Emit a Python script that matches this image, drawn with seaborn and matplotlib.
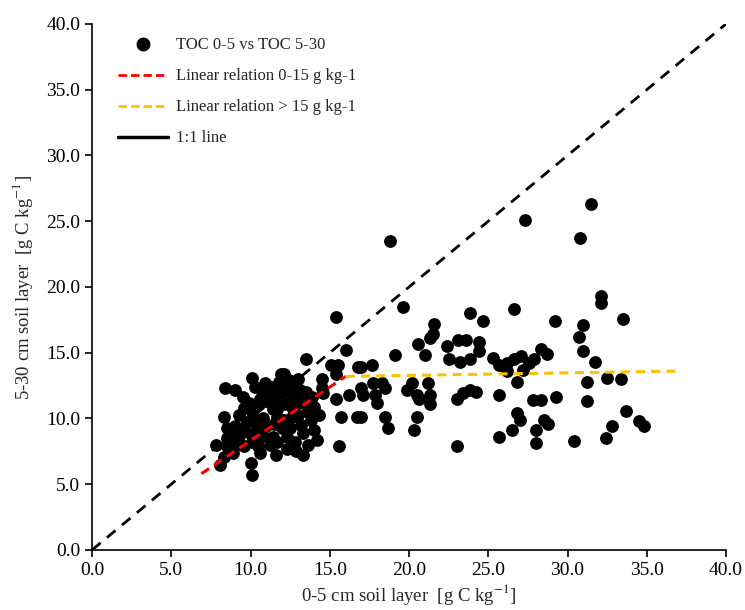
import matplotlib
matplotlib.use("Agg")
import matplotlib.pyplot as plt
import seaborn as sns
import pandas as pd
from matplotlib.lines import Line2D
from matplotlib.ticker import FormatStrFormatter, MultipleLocator

# TOC 0-5 cm (x) vs TOC 5-30 cm (y)
toc_top = [
    10.1, 8.4, 9.0, 9.5, 10.7, 11.9, 10.1, 10.5, 11.0, 11.4, 11.7, 10.8, 10.3,
    8.5, 9.0, 8.5, 8.8, 7.8, 8.5, 8.3, 8.9, 9.6, 10.1, 10.5, 10.6, 8.1, 10.0, 10.1,
    11.6, 11.7, 11.4, 15.4, 16.0, 13.5, 15.1, 15.5, 12.1, 13.0, 14.5, 15.4, 14.5,
    11.5, 11.9, 12.3, 11.7, 12.1, 12.7, 13.3, 14.0, 14.3, 13.8, 13.2, 12.5, 13.3,
    12.3, 12.9, 13.3, 14.0, 14.6, 15.4, 15.7, 15.6, 14.2,
    10.9, 11.3, 11.8, 12.4, 12.8, 13.1, 12.6, 12.2, 11.2, 10.6, 10.3, 9.9, 9.6,
    9.3, 9.8, 10.4, 11.0, 11.5, 12.0, 12.6, 13.0, 13.6, 13.9, 13.5, 12.9, 10.0,
    9.3, 9.1, 10.8, 11.2, 12.3, 12.8, 13.6, 9.5, 8.3,
    16.8, 16.2, 16.7, 17.0, 19.6, 23.85, 24.7, 26.6, 29.2, 21.6, 21.5, 21.3, 20.55,
    21.0, 19.1, 22.4, 23.1, 23.6, 24.4, 24.4, 22.5, 23.2, 23.85, 25.3, 25.7, 26.2,
    26.6, 27.05, 26.2, 27.2, 27.6, 27.9, 28.3, 28.7, 26.8,
    17.0, 17.65, 17.0, 17.1, 17.7, 18.3, 18.5, 17.86, 18.0, 18.5, 18.7,
    19.9, 20.2, 21.2, 20.5, 20.65, 21.3, 21.3, 20.5, 20.3,
    23.0, 23.4, 23.85, 24.2, 23.0, 25.7, 27.8, 28.3, 29.3, 26.8, 27.0, 25.7, 26.5,
    28.0, 28.0, 28.5, 28.8, 27.3, 18.8,
    31.5, 30.8, 32.1, 32.1, 33.5, 31.0, 30.7, 31.0, 31.75, 31.25, 32.5, 33.4, 31.25,
    33.7, 34.5, 34.8, 32.8, 32.4, 30.4,
]
toc_sub = [
    13.1, 12.3, 12.2, 11.6, 12.1, 13.4, 10.5, 11.0, 11.3, 10.7, 10.1, 10.0, 9.9,
    9.3, 9.4, 8.5, 8.4, 8.0, 7.9, 7.1, 7.4, 7.9, 8.2, 7.9, 7.4, 6.5, 6.6, 5.7,
    7.2, 8.2, 8.6, 17.7, 15.2, 14.5, 14.1, 14.1, 13.4, 13.0, 13.0, 13.4, 12.3,
    11.4, 11.9, 12.4, 10.7, 9.9, 10.7, 11.2, 10.9, 10.3, 9.9, 9.5, 9.3, 8.9,
    7.7, 7.5, 7.2, 9.1, 11.9, 11.5, 10.1, 7.9, 8.4,
    12.7, 12.4, 12.8, 12.9, 12.6, 12.2, 11.7, 11.1, 11.8, 11.5, 12.4, 11.2, 10.8,
    10.3, 9.7, 9.3, 9.4, 9.6, 9.3, 10.1, 10.3, 10.5, 11.6, 12.0, 11.4, 8.8,
    8.7, 8.0, 8.7, 8.0, 8.6, 8.2, 8.0, 9.2, 10.1,
    13.9, 11.8, 10.1, 10.1, 18.5, 18.05, 17.4, 18.3, 17.4, 17.2, 16.4, 16.1, 15.7,
    14.8, 14.8, 15.5, 16.0, 16.0, 15.8, 15.1, 14.5, 14.3, 14.5, 14.6, 14.1, 14.2,
    14.5, 14.75, 13.6, 13.7, 14.2, 14.5, 15.3, 14.9, 12.8,
    13.9, 14.1, 12.3, 11.8, 12.7, 12.7, 12.3, 11.8, 11.2, 10.1, 9.25,
    12.2, 12.7, 12.7, 11.8, 11.5, 11.8, 11.1, 10.1, 9.1,
    11.5, 11.9, 12.2, 12.0, 7.9, 11.8, 11.4, 11.4, 11.6, 10.4, 9.9, 8.6, 9.1,
    9.1, 8.1, 9.9, 9.6, 25.1, 23.5,
    26.3, 23.75, 19.3, 18.8, 17.6, 17.1, 16.2, 15.1, 14.3, 12.75, 13.1, 13.0, 11.3,
    10.6, 9.8, 9.4, 9.4, 8.5, 8.3,
]

# fitted segments and 1:1 line (end points)
low_x = [6.9, 16.0]
low_y = [5.8, 13.2]
high_x = [16.0, 36.8]
high_y = [13.2, 13.6]
one_x = [0.0, 40.0]
one_y = [0.0, 40.0]

df = pd.DataFrame({"top": toc_top, "sub": toc_sub})

sns.set_style("ticks")
plt.rcParams["font.family"] = ["Liberation Serif", "DejaVu Serif"]
plt.rcParams["mathtext.fontset"] = "stix"

fig = plt.figure(figsize=(7.45, 6.10), dpi=100)
ax = fig.add_axes([0.1235, 0.0984, 0.851, 0.8623])

sns.lineplot(x=one_x, y=one_y, ax=ax, color="black", lw=2.0,
             linestyle=(0, (4, 3)), zorder=1)
sns.scatterplot(data=df, x="top", y="sub", ax=ax, color="black", s=85,
                edgecolor="black", linewidth=0, zorder=2)
sns.lineplot(x=low_x, y=low_y, ax=ax, color="#FF0000", lw=2.2,
             linestyle=(0, (3, 2)), zorder=3)
sns.lineplot(x=high_x, y=high_y, ax=ax, color="#FFC000", lw=2.2,
             linestyle=(0, (3, 2)), zorder=3)

ax.set_xlim(0, 40)
ax.set_ylim(0, 40)
ax.xaxis.set_major_locator(MultipleLocator(5))
ax.yaxis.set_major_locator(MultipleLocator(5))
ax.xaxis.set_major_formatter(FormatStrFormatter("%.1f"))
ax.yaxis.set_major_formatter(FormatStrFormatter("%.1f"))
ax.tick_params(axis="both", direction="out", length=5, width=1.2,
               labelsize=14, colors="black")
for side in ["left", "bottom"]:
    ax.spines[side].set_linewidth(1.2)
    ax.spines[side].set_color("black")
sns.despine(ax=ax)

ax.set_xlabel("0-5 cm soil layer  [g C kg$^{-1}$]", fontsize=13.5, labelpad=2)
ax.set_ylabel("5-30 cm soil layer  [g C kg$^{-1}$]", fontsize=13.5, labelpad=8)

handles = [
    Line2D([], [], marker="o", color="black", linestyle="none", markersize=9),
    Line2D([], [], color="#FF0000", lw=2, linestyle=(0, (3, 1.5))),
    Line2D([], [], color="#FFC000", lw=2, linestyle=(0, (3, 1.5))),
    Line2D([], [], color="black", lw=2.5),
]
labels = ["TOC 0-5 vs TOC 5-30", "Linear relation 0-15 g kg-1",
          "Linear relation > 15 g kg-1", "1:1 line"]
ax.legend(handles, labels, loc="upper left", bbox_to_anchor=(0.017, 1.003),
          frameon=False, fontsize=12, handlelength=3.0, labelspacing=0.9,
          handletextpad=0.5)

fig.savefig("out.png", dpi=100)
